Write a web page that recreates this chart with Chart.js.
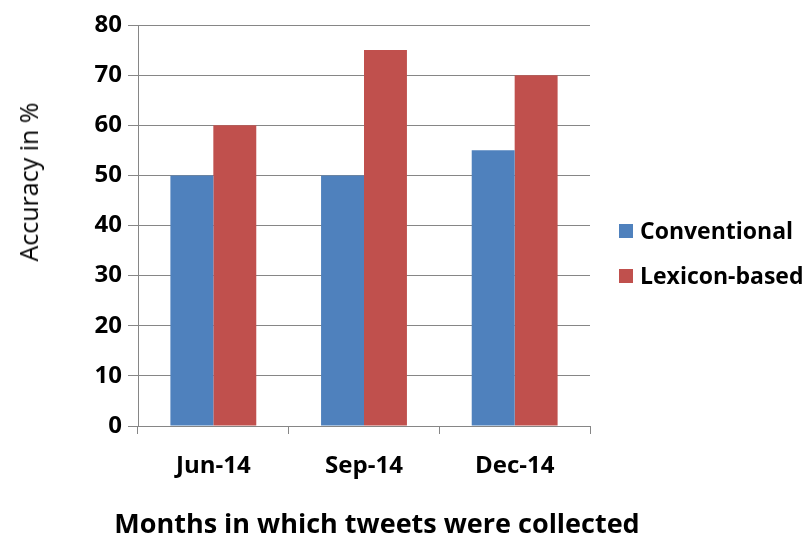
<!DOCTYPE html>
<html>
<head>
<meta charset="utf-8">
<script src="https://cdn.jsdelivr.net/npm/chart.js@4/dist/chart.umd.min.js"></script>
<style>
  body { margin: 0; background: #fff; overflow: hidden; }
  #wrap { position: relative; width: 807px; height: 536px; overflow: hidden; }
  .legend { position: absolute; left: 619px; font: bold 23px "Open Sans", sans-serif; color: #000; white-space: nowrap; }
  .legend span { display: inline-block; width: 14px; height: 14px; margin-right: 7px; vertical-align: 1px; }
  #ytitle { position: absolute; left: 28px; top: 182px; transform: translate(-50%, -50%) rotate(-90deg);
            font: 25px "Open Sans", sans-serif; color: #000; white-space: nowrap; }
  #xtitle { position: absolute; left: 377px; top: 522px; transform: translate(-50%, -50%);
            font: bold 27px "Open Sans", sans-serif; color: #000; white-space: nowrap; }
</style>
</head>
<body>
<div id="wrap">
  <canvas id="myChart" width="807" height="536"></canvas>
  <div id="ytitle">Accuracy in %</div>
  <div id="xtitle">Months in which tweets were collected</div>
  <div class="legend" style="top:214px"><span style="background:#4F81BD"></span>Conventional</div>
  <div class="legend" style="top:259px"><span style="background:#C0504D"></span>Lexicon-based</div>
</div>
<script>
// Chart data
const months = ['Jun-14', 'Sep-14', 'Dec-14'];
const conventional = [50, 50, 55];
const lexiconBased = [60, 75, 70];

const font = '"Open Sans", sans-serif';
const ctx = document.getElementById('myChart').getContext('2d');

const chart = new Chart(ctx, {
    type: 'bar',
    data: {
        labels: months,
        datasets: [{
            label: 'Conventional',
            data: conventional,
            backgroundColor: '#4F81BD'
        }, {
            label: 'Lexicon-based',
            data: lexiconBased,
            backgroundColor: '#C0504D'
        }]
    },
    options: {
        responsive: false,
        animation: false,
        layout: { padding: { top: 25, right: 217, left: 0, bottom: 0 } },
        plugins: { legend: { display: false }, tooltip: { enabled: false } },
        datasets: { bar: { categoryPercentage: 0.57, barPercentage: 1.0 } },
        scales: {
            x: {
                grid: { display: true, drawOnChartArea: false, drawTicks: true, tickLength: 8, color: '#868686', offset: true },
                border: { color: '#868686' },
                ticks: { color: '#000', font: { family: font, size: 24, weight: 'bold' }, padding: 18 },
                afterFit: (scale) => { scale.height = 110; }
            },
            y: {
                min: 0,
                max: 80,
                ticks: { stepSize: 10, color: '#000', font: { family: font, size: 24, weight: 'bold' }, padding: 6 },
                grid: { color: '#868686', tickLength: 10 },
                border: { color: '#868686' },
                afterFit: (scale) => { scale.width = 138; }
            }
        }
    }
});
</script>
</body>
</html>
